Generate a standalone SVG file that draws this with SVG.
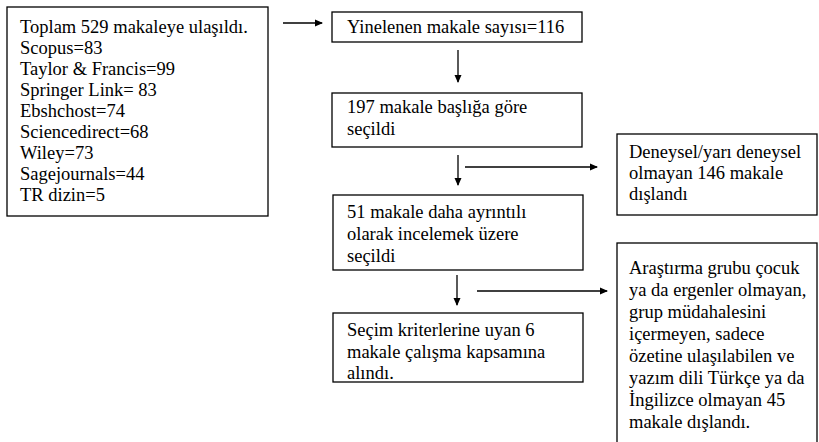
<svg xmlns="http://www.w3.org/2000/svg" width="819" height="442" viewBox="0 0 819 442">
<defs>
<marker id="ah" markerWidth="8" markerHeight="8" refX="7" refY="4" orient="auto" markerUnits="userSpaceOnUse">
<path d="M0,0.5 L8,4 L0,7.5 Z" fill="#000"/>
</marker>
<style>
rect.box{fill:#fff;stroke:#000;stroke-width:1.3}
.t{font-family:'Liberation Serif','Times New Roman',Times,serif;font-size:18.5px;fill:#000}
.con{stroke:#000;stroke-width:1.3;fill:none;marker-end:url(#ah)}
</style>
</defs>
<rect width="819" height="442" fill="#fff"/>
<g id="n1">
<rect class="box" x="7" y="7" width="261" height="209"/>
<g class="t">
<text x="20" y="33">Toplam 529 makaleye ulaşıldı.</text>
<text x="20" y="54">Scopus=83</text>
<text x="20" y="75">Taylor &amp; Francis=99</text>
<text x="20" y="96">Springer Link= 83</text>
<text x="20" y="117">Ebshchost=74</text>
<text x="20" y="138">Sciencedirect=68</text>
<text x="20" y="159">Wiley=73</text>
<text x="20" y="180">Sagejournals=44</text>
<text x="20" y="201">TR dizin=5</text>
</g>
</g>
<g id="n2">
<rect class="box" x="332" y="12" width="250" height="30"/>
<text class="t" x="347" y="33">Yinelenen makale sayısı=116</text>
</g>
<g id="n3">
<rect class="box" x="332" y="93" width="250" height="54"/>
<g class="t">
<text x="347" y="113">197 makale başlığa göre</text>
<text x="347" y="135">seçildi</text>
</g>
</g>
<g id="n4">
<rect class="box" x="333" y="195" width="250" height="75"/>
<g class="t">
<text x="347" y="218">51 makale daha ayrıntılı</text>
<text x="347" y="240">olarak incelemek üzere</text>
<text x="347" y="262">seçildi</text>
</g>
</g>
<g id="n5">
<rect class="box" x="617" y="134" width="200" height="81"/>
<g class="t">
<text x="629" y="158">Deneysel/yarı deneysel</text>
<text x="629" y="179">olmayan 146 makale</text>
<text x="629" y="200">dışlandı</text>
</g>
</g>
<g id="n6">
<rect class="box" x="333" y="313" width="250" height="69"/>
<g class="t">
<text x="347" y="336">Seçim kriterlerine uyan 6</text>
<text x="347" y="358">makale çalışma kapsamına</text>
<text x="347" y="379">alındı.</text>
</g>
</g>
<g id="n7">
<rect class="box" x="617" y="243" width="200" height="210"/>
<g class="t">
<text x="629" y="274">Araştırma grubu çocuk</text>
<text x="629" y="296">ya da ergenler olmayan,</text>
<text x="629" y="318">grup müdahalesini</text>
<text x="629" y="340">içermeyen, sadece</text>
<text x="629" y="362">özetine ulaşılabilen ve</text>
<text x="629" y="384">yazım dili Türkçe ya da</text>
<text x="629" y="406">İngilizce olmayan 45</text>
<text x="629" y="428">makale dışlandı.</text>
</g>
</g>
<g id="connectors">
<line class="con" x1="283" y1="23" x2="322" y2="23"/>
<line class="con" x1="458" y1="50" x2="458" y2="82"/>
<line class="con" x1="458" y1="155" x2="458" y2="185"/>
<line class="con" x1="465" y1="167" x2="597" y2="167"/>
<line class="con" x1="457" y1="275" x2="457" y2="305"/>
<line class="con" x1="477" y1="291" x2="607" y2="291"/>
</g>
</svg>
